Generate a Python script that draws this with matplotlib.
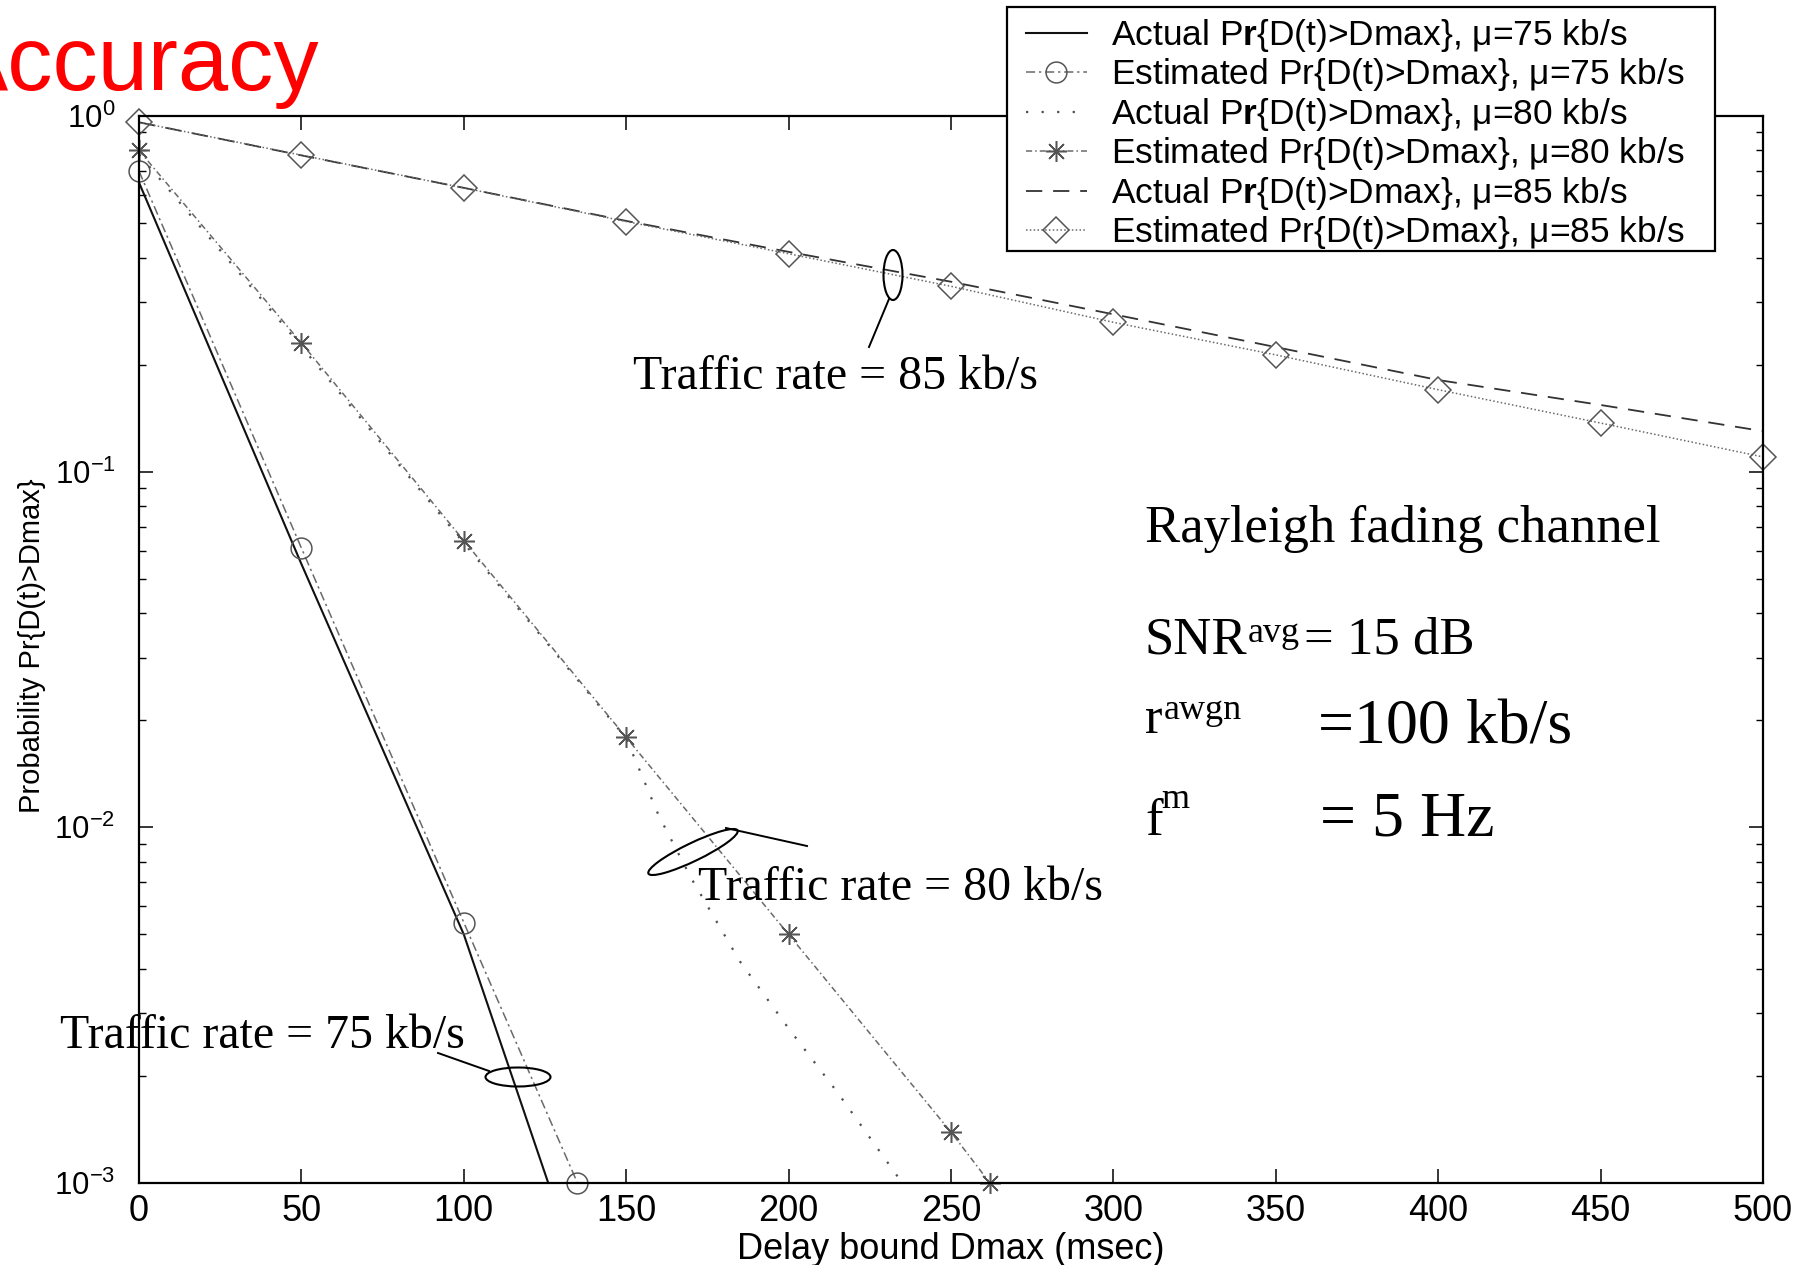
import matplotlib
matplotlib.use('Agg')
import matplotlib.pyplot as plt
from matplotlib.patches import Ellipse, Rectangle
from matplotlib.lines import Line2D
from matplotlib.transforms import Affine2D
from matplotlib.ticker import LogLocator, NullFormatter

W, H = 1813, 1265

# delay bound Dmax (msec) and Pr{D(t)>Dmax}
delay_act75 = [0, 50, 100, 126]
prob_act75 = [0.65, 0.055, 5.0e-3, 1.0e-3]
delay_est75 = [0, 50, 100, 135]
prob_est75 = [0.70, 0.061, 5.4e-3, 1.0e-3]

delay_act80 = [0, 50, 100, 150, 160, 170, 185, 200, 215, 235]
prob_act80 = [0.78, 0.225, 0.063, 0.0178, 0.0108, 7.2e-3, 4.2e-3, 2.72e-3, 1.8e-3, 1.0e-3]
delay_est80 = [0, 50, 100, 150, 200, 250, 262]
prob_est80 = [0.80, 0.23, 0.064, 0.0179, 5.0e-3, 1.39e-3, 1.0e-3]

delay_85 = [0, 50, 100, 150, 200, 250, 300, 350, 400, 450, 500]
prob_act85 = [0.96, 0.775, 0.628, 0.507, 0.415, 0.342, 0.277, 0.224, 0.181, 0.154, 0.130]
prob_est85 = [0.96, 0.776, 0.628, 0.505, 0.410, 0.332, 0.263, 0.213, 0.170, 0.137, 0.110]

x_ticks = [0, 50, 100, 150, 200, 250, 300, 350, 400, 450, 500]

legend_labels = [
    'Actual P$\\mathbf{r}${D(t)>Dmax}, \u03bc=75 kb/s',
    'Estimated P$\\mathrm{r}${D(t)>Dmax}, \u03bc=75 kb/s',
    'Actual P$\\mathbf{r}${D(t)>Dmax}, \u03bc=80 kb/s',
    'Estimated P$\\mathrm{r}${D(t)>Dmax}, \u03bc=80 kb/s',
    'Actual P$\\mathbf{r}${D(t)>Dmax}, \u03bc=85 kb/s',
    'Estimated P$\\mathrm{r}${D(t)>Dmax}, \u03bc=85 kb/s',
]

plt.rcParams['font.family'] = ['Liberation Sans', 'DejaVu Sans']
plt.rcParams['mathtext.fontset'] = 'custom'
plt.rcParams['mathtext.rm'] = 'Liberation Sans'
plt.rcParams['mathtext.it'] = 'Liberation Sans:italic'
plt.rcParams['mathtext.bf'] = 'Liberation Sans:bold'

SERIF = 'Liberation Serif'

# pixel coordinates measured from the top-left corner of the image
px = Affine2D().scale(1, -1).translate(0, H)


def plot_curves(ax):
    est = dict(color='#6a6a6a', lw=1.1, mfc='none', mec='#555555', mew=1.1, clip_on=False)
    ax.plot(delay_act75, prob_act75, color='#111111', lw=1.5, ls='-', label=legend_labels[0])
    ax.plot(delay_est75, prob_est75, ls=(0, (6, 2.5, 1.5, 2.5)), marker='o', ms=15,
            label=legend_labels[1], **est)
    ax.plot(delay_act80, prob_act80, color='#505050', lw=1.6, ls=(0, (1, 6)),
            label=legend_labels[2])
    ax.plot(delay_est80, prob_est80, ls=(0, (4, 2, 1, 2)), marker=(8, 2, 0), ms=15,
            label=legend_labels[3], **est)
    ax.plot(delay_85, prob_act85, color='#333333', lw=1.3, ls=(0, (9, 6)),
            label=legend_labels[4])
    ax.plot(delay_85, prob_est85, ls=(0, (1, 1.5)), marker='D', ms=13,
            label=legend_labels[5], **est)


def style_axes(ax):
    ax.set_yscale('log')
    ax.set_xlim(0, 500)
    ax.set_ylim(1e-3, 1)
    ax.set_xticks(x_ticks)
    ax.yaxis.set_major_locator(LogLocator(base=10))
    ax.yaxis.set_minor_locator(LogLocator(base=10, subs=range(2, 10)))
    ax.yaxis.set_minor_formatter(NullFormatter())
    ax.tick_params(which='both', direction='in', top=True, right=True, color='black')
    ax.tick_params(which='major', length=10, width=1.1)
    ax.tick_params(which='minor', length=5, width=1.0)
    ax.tick_params(axis='x', labelsize=26, pad=8)
    ax.tick_params(axis='y', labelsize=22.5, pad=17)
    for side in ax.spines.values():
        side.set_linewidth(1.6)
    ax.set_xlabel('Delay bound Dmax (msec)', fontsize=26, va='center')
    ax.xaxis.set_label_coords(0.5, -0.062)
    ax.set_ylabel('Probability Pr{D(t)>Dmax}', fontsize=21, va='center')
    ax.yaxis.set_label_coords(-0.066, 0.504)


def add_legend(fig, ax):
    # white box that covers the top spine, like the original
    fig.add_artist(Rectangle((1007, 7), 708, 244, transform=px, facecolor='white',
                             edgecolor='black', lw=1.6, zorder=4))
    handles, labels = ax.get_legend_handles_labels()
    fig.legend(handles, labels, loc='upper left', bbox_to_anchor=(1026 / W, 1 - 17 / H),
               frameon=False, fontsize=25.5, numpoints=1, handlelength=1.72,
               handletextpad=0.68, labelspacing=0.07, borderpad=0, borderaxespad=0)


def add_notes(fig):
    fig.text(-52, 90, 'Accuracy', transform=px, color='#ff0000', fontsize=65,
             va='baseline', ha='left')

    note = dict(transform=px, family=SERIF, va='baseline', ha='left', color='black')
    fig.text(633, 389, 'Traffic rate = 85 kb/s', fontsize=34.5, **note)
    fig.text(698, 900, 'Traffic rate = 80 kb/s', fontsize=34.5, **note)
    fig.text(60, 1048, 'Traffic rate = 75 kb/s', fontsize=34.5, **note)

    ring = dict(transform=px, fill=False, edgecolor='black', lw=1.5)
    fig.add_artist(Ellipse((893, 275), 19, 50, **ring))
    fig.add_artist(Ellipse((693, 852), 99, 18, angle=-25.8, **ring))
    fig.add_artist(Ellipse((518, 1077), 65, 19, **ring))
    fig.add_artist(Line2D([869, 889], [347, 299], transform=px, color='black', lw=1.4))
    fig.add_artist(Line2D([726, 807], [828, 846], transform=px, color='black', lw=1.4))
    fig.add_artist(Line2D([438, 489], [1053, 1071], transform=px, color='black', lw=1.4))

    fig.text(1145, 542, 'Rayleigh fading channel', fontsize=38, **note)
    fig.text(1145, 653, 'SNR', fontsize=38, **note)
    fig.text(1248, 642, 'avg', fontsize=26, **note)
    fig.text(1304, 653, '= 15 dB', fontsize=38, **note)
    fig.text(1145, 733, 'r', fontsize=38, **note)
    fig.text(1164, 719, 'awgn', fontsize=26, **note)
    fig.text(1318, 743, '=100 kb/s', fontsize=46, **note)
    fig.text(1145, 835, 'f', fontsize=38, **note)
    fig.text(1161, 808, 'm', fontsize=26, **note)
    fig.text(1320, 835, '= 5 Hz', fontsize=46, **note)


def main():
    fig = plt.figure(figsize=(W / 100, H / 100), dpi=100)
    ax = fig.add_axes([139 / W, 1 - 1183 / H, 1624 / W, 1067 / H])
    plot_curves(ax)
    style_axes(ax)
    add_legend(fig, ax)
    add_notes(fig)
    fig.savefig('out.png', dpi=100)


if __name__ == "__main__":
    main()
